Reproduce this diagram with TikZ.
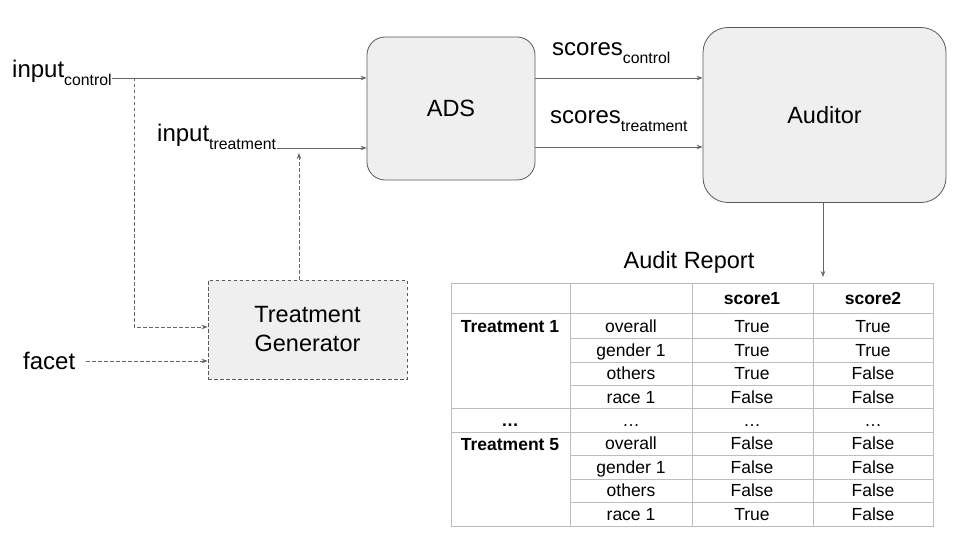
\documentclass[tikz,border=0pt]{standalone}
\usepackage{fontspec}
\setmainfont{Liberation Sans}
\usetikzlibrary{arrows.meta}
\definecolor{boxfill}{HTML}{EFEFEF}
\definecolor{boxline}{HTML}{595959}
\definecolor{arrcol}{HTML}{666666}
\definecolor{gridcol}{HTML}{BDBDBD}
\newcommand{\bigtxt}[1]{{\fontsize{24}{24}\selectfont #1}}
\newcommand{\subtxt}[1]{\raisebox{-8pt}{\fontsize{15.8}{15.8}\selectfont #1}}
\begin{document}
\begin{tikzpicture}[x=1pt,y=-1pt,
  lbl/.style={inner sep=0pt,anchor=base west},
  blk/.style={draw=boxline,fill=boxfill,line width=0.8pt,font=\fontsize{23.5}{29}\selectfont,align=center},
  arr/.style={draw=arrcol,line width=0.8pt,-{Stealth[length=6pt,width=4.5pt]}},
  darr/.style={arr,dashed,dash pattern=on 3.5pt off 2.5pt},
  cell/.style={inner sep=0pt,anchor=base,font=\fontsize{17.5}{20}\selectfont},
  bcell/.style={cell,font=\fontsize{17.5}{20}\selectfont\bfseries},
  grid/.style={draw=gridcol,line width=0.8pt}]
\useasboundingbox (0,0) rectangle (960,540);
% boxes
\node[blk,rounded corners=18pt,minimum width=168pt,minimum height=143pt] (ads) at (451,108.5) {ADS};
\node[blk,rounded corners=25pt,minimum width=243pt,minimum height=175pt] (aud) at (824.5,115) {Auditor};
\node[blk,dashed,dash pattern=on 3.5pt off 2.5pt,minimum width=199pt,minimum height=99pt] (tg) at (307.5,329.5) {Treatment\\Generator};
% labels
\node[lbl] (ic) at (12,78) {\bigtxt{input}\subtxt{control}};
\node[lbl] (it) at (157,142) {\bigtxt{input}\subtxt{treatment}};
\node[lbl] (fc) at (23,369) {\bigtxt{facet}};
\node[lbl] (sc) at (552,56) {\bigtxt{scores}\subtxt{control}};
\node[lbl] (st) at (550,124) {\bigtxt{scores}\subtxt{treatment}};
\node[inner sep=0pt,anchor=base,font=\fontsize{23.5}{28}\selectfont] (ar) at (689,268) {Audit Report};
% coordinates
\coordinate (icend) at (112,78);
\coordinate (itend) at (277,148);
\coordinate (br) at (134,78);
\coordinate (up) at (299,153);
\coordinate (fcend) at (86,361);
\coordinate (tbltop) at (823,277);
% connectors
\draw[arr] (icend) -- (ads.west |- icend);
\draw[arr] (itend) -- (ads.west |- itend);
\draw[darr] (br) -- (134,327) -- (tg.west |- 0,327);
\draw[darr] (fcend) -- (tg.west |- fcend);
\draw[darr] (tg.north -| up) -- (up);
\draw[arr] (ads.east |- 0,78) -- (aud.west |- 0,78);
\draw[arr] (ads.east |- 0,147) -- (aud.west |- 0,147);
\draw[arr] (aud.south -| tbltop) -- (tbltop);
% table grid
\draw[grid] (451,283) rectangle (933,526);
\foreach \x in {570,692,813} \draw[grid] (\x,283) -- (\x,526);
\foreach \y in {313,408,432} \draw[grid] (451,\y) -- (933,\y);
\foreach \y in {338,362,385,455,479,502} \draw[grid] (570,\y) -- (933,\y);
% header
\node[bcell] (h3) at (752,304) {score1};
\node[bcell] (h4) at (873,304) {score2};
\node[bcell] (t1) at (510,332) {Treatment 1};
\node[bcell] (tdots) at (510,426) {…};
\node[bcell] (t5) at (510,450) {Treatment 5};
% body
\foreach \y/\a/\b/\c [count=\i] in {332/overall/True/True,356/gender 1/True/True,379.5/others/True/False,403/race 1/False/False,426/…/…/…,449.5/overall/False/False,473/gender 1/False/False,496.5/others/False/False,520/race 1/True/False}{
  \node[cell] (ra\i) at (631,\y) {\a};
  \node[cell] (rb\i) at (752,\y) {\b};
  \node[cell] (rc\i) at (873,\y) {\c};
}
\end{tikzpicture}
\end{document}
